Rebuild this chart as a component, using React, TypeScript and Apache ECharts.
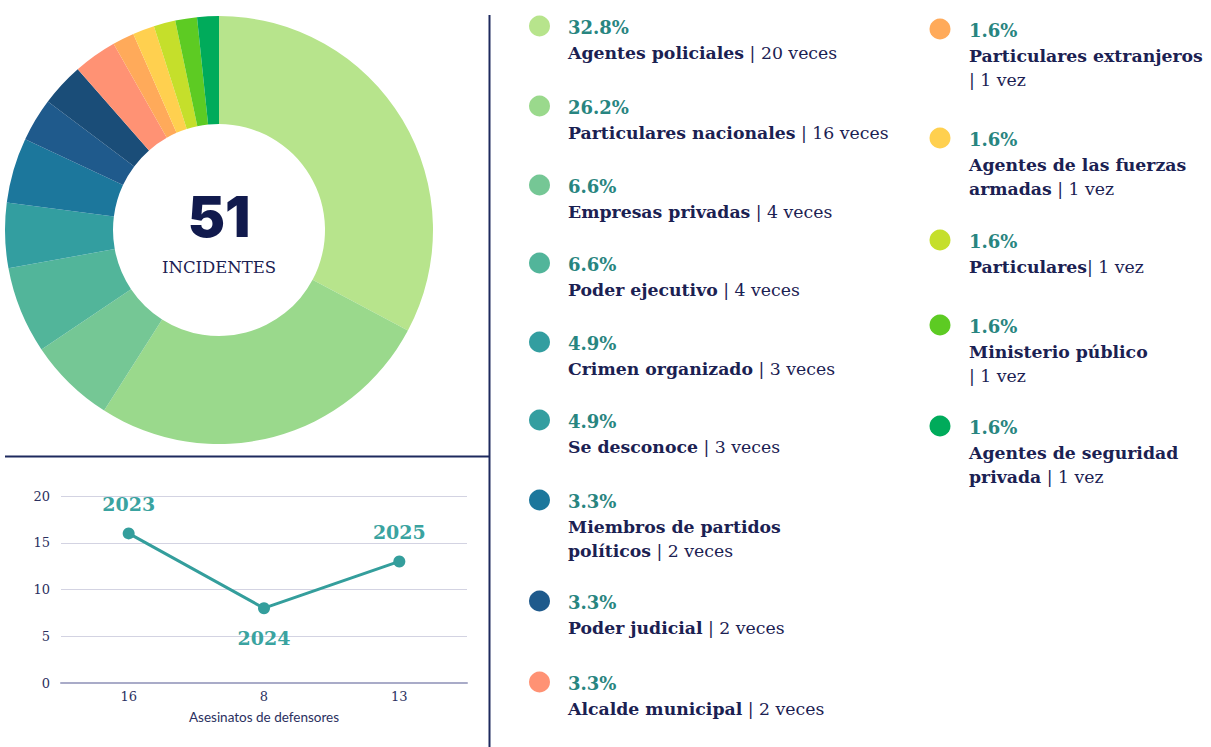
import React, { useEffect, useRef } from "react";
import * as echarts from "echarts";

// ---------- data ----------
const categories = [
  "Agentes policiales",
  "Particulares nacionales",
  "Empresas privadas",
  "Poder ejecutivo",
  "Crimen organizado",
  "Se desconoce",
  "Miembros de partidos\npolíticos",
  "Poder judicial",
  "Alcalde municipal",
  "Particulares extranjeros\n",
  "Agentes de las fuerzas\narmadas",
  "Particulares",
  "Ministerio público\n",
  "Agentes de seguridad\nprivada",
];
const counts = [20, 16, 4, 4, 3, 3, 2, 2, 2, 1, 1, 1, 1, 1];
const separators = [" | ", " | ", " | ", " | ", " | ", " | ", " | ", " | ", " | ", "| ", " | ", "| ", "| ", " | "];
const pieColors = [
  "#b7e48c", "#9ad98c", "#75c795", "#52b59a", "#339ea0", "#1c779c", "#1f5a8c",
  "#1a4d78", "#ff9274", "#ffaa5a", "#ffd04f", "#c5df2b", "#5dcb23", "#00ab5b",
];
const dotColors = [
  "#b7e48c", "#9ad98c", "#75c795", "#52b59a", "#339ea0", "#339ea0", "#1c779c",
  "#1f5a8c", "#ff9274", "#ffaa5a", "#ffd04f", "#c5df2b", "#5dcb23", "#00ab5b",
];
const centerValue = "51";
const centerLabel = "INCIDENTES";

const years = ["2023", "2024", "2025"];
const killings = [16, 8, 13];
const xAxisName = "Asesinatos de defensores";

// ---------- layout ----------
const legendCols = [
  { dotX: 539.5, textX: 568, ys: [26, 106, 185, 263, 342, 420, 500, 601, 682] },
  { dotX: 940, textX: 969, ys: [29, 138, 240, 325, 426] },
];

const NAVY = "#1b2152";
const SERIF = "'DejaVu Serif', serif";

export default function App() {
  const ref = useRef<HTMLDivElement>(null);

  useEffect(() => {
    if (!ref.current) return;
    const chart = echarts.init(ref.current, undefined, { renderer: "svg" });
    const total = counts.reduce((a, b) => a + b, 0);

    const graphics: any[] = [];
    // dividers
    graphics.push({
      type: "line",
      shape: { x1: 489.5, y1: 15, x2: 489.5, y2: 747 },
      style: { stroke: "#1e2a5e", lineWidth: 2 },
    });
    graphics.push({
      type: "line",
      shape: { x1: 5, y1: 456.5, x2: 489, y2: 456.5 },
      style: { stroke: "#1e2a5e", lineWidth: 2 },
    });
    // center texts
    graphics.push({
      type: "text",
      x: 219,
      y: 217,
      style: {
        text: centerValue,
        fill: "#111a4d",
        fontFamily: "Inter",
        fontWeight: 900,
        fontSize: 56,
        textAlign: "center",
        textVerticalAlign: "middle",
      },
    });
    graphics.push({
      type: "text",
      x: 219,
      y: 267,
      style: {
        text: centerLabel,
        fill: NAVY,
        fontFamily: SERIF,
        fontSize: 16.5,
        textAlign: "center",
        textVerticalAlign: "middle",
      },
    });

    // legend
    let idx = 0;
    legendCols.forEach((col) => {
      col.ys.forEach((y) => {
        const i = idx++;
        if (i >= categories.length) return;
        const pct = ((counts[i] / total) * 100).toFixed(1) + "%";
        const countText = counts[i] === 1 ? "1 vez" : `${counts[i]} veces`;
        const lines = categories[i].split("\n");
        const rich = lines
          .map((l, k) => {
            if (k < lines.length - 1) return `{b|${l}}`;
            return (l ? `{b|${l}}` : "") + `{r|${separators[i]}${countText}}`;
          })
          .join("\n");
        graphics.push({
          type: "circle",
          shape: { cx: col.dotX, cy: y, r: 10.5 },
          style: { fill: dotColors[i] },
        });
        graphics.push({
          type: "text",
          x: col.textX,
          y: y + 1,
          style: {
            text: pct,
            fill: "#288580",
            fontFamily: SERIF,
            fontWeight: "bold",
            fontSize: 18,
            textVerticalAlign: "middle",
          },
        });
        graphics.push({
          type: "text",
          x: col.textX,
          y: y + 15,
          style: {
            text: rich,
            fill: NAVY,
            fontFamily: SERIF,
            fontSize: 17.3,
            lineHeight: 24,
            textVerticalAlign: "top",
            rich: {
              b: { fontFamily: SERIF, fontWeight: "bold", fontSize: 17.3, lineHeight: 24, fill: NAVY },
              r: { fontFamily: SERIF, fontWeight: "normal", fontSize: 17.3, lineHeight: 24, fill: NAVY },
            },
          },
        });
      });
    });

    chart.setOption({
      animation: false,
      grid: { left: 61, right: 1211 - 467, top: 496, bottom: 747 - 683 },
      xAxis: {
        type: "category",
        data: killings.map(String),
        name: xAxisName,
        nameLocation: "middle",
        nameGap: 27,
        nameTextStyle: { fontFamily: "Lato", fontSize: 13.5, color: "#2b3060" },
        axisLine: { lineStyle: { color: "#a9abc8", width: 2 } },
        axisTick: { show: false },
        axisLabel: { fontFamily: SERIF, fontSize: 13, color: "#2b3060", margin: 7 },
      },
      yAxis: {
        type: "value",
        min: 0,
        max: 20,
        interval: 5,
        axisLine: { show: false },
        axisTick: { show: false },
        axisLabel: { fontFamily: SERIF, fontSize: 13, color: "#2b3060", margin: 11 },
        splitLine: { lineStyle: { color: "#d3d3e2", width: 1 } },
      },
      series: [
        {
          type: "pie",
          center: [219, 230],
          radius: [106, 214],
          startAngle: 90,
          clockwise: true,
          silent: true,
          label: { show: false },
          labelLine: { show: false },
          itemStyle: { borderWidth: 0 },
          data: categories.map((c, i) => ({
            name: c,
            value: counts[i],
            itemStyle: { color: pieColors[i] },
          })),
        },
        {
          type: "line",
          data: killings.map((v, i) => ({
            value: v,
            label: { position: i === 1 ? "bottom" : "top" },
          })),
          symbol: "circle",
          symbolSize: 12,
          lineStyle: { color: "#349e9c", width: 3 },
          itemStyle: { color: "#349e9c" },
          silent: true,
          label: {
            show: true,
            formatter: (p: any) => years[p.dataIndex],
            fontFamily: SERIF,
            fontWeight: "bold",
            fontSize: 19,
            color: "#3aa3a0",
            distance: 14,
          },
        },
      ],
      graphic: graphics,
    });

    return () => chart.dispose();
  }, []);

  return (
    <div
      ref={ref}
      style={{ position: "absolute", left: 0, top: 0, width: 1211, height: 747, background: "#fff" }}
    />
  );
}
